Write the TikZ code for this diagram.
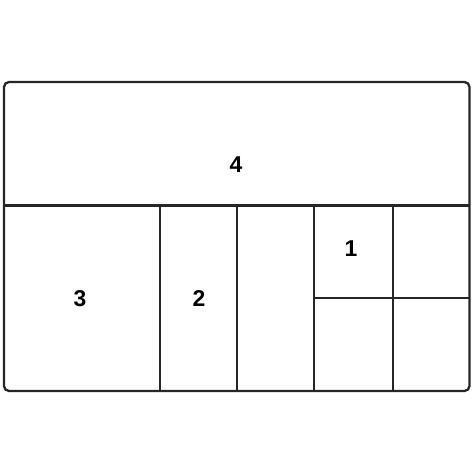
\documentclass[tikz,border=0pt]{standalone}
\usepackage{fontspec}
\setmainfont{Liberation Sans}
\begin{document}
\begin{tikzpicture}[x=1bp,y=-1bp,
  wall/.style={line width=2.3bp,draw=black!85},
  lbl/.style={font=\bfseries\fontsize{23}{23}\selectfont,inner sep=0pt}]
\useasboundingbox (0,0) rectangle (474,474);
\draw[wall,rounded corners=5bp] (4,82) rectangle (469.5,391);
\draw[wall] (4,205.5) -- (469.5,205.5);
\draw[wall] (160,205.5) -- (160,391);
\draw[wall] (237,205.5) -- (237,391);
\draw[wall] (314,205.5) -- (314,391);
\draw[wall] (393,205.5) -- (393,391);
\draw[wall] (314,298) -- (469.5,298);
\node[lbl] (l4) at (236,165) {4};
\node[lbl] (l1) at (351,249) {1};
\node[lbl] (l2) at (199,298) {2};
\node[lbl] (l3) at (80,299) {3};
\end{tikzpicture}
\end{document}
